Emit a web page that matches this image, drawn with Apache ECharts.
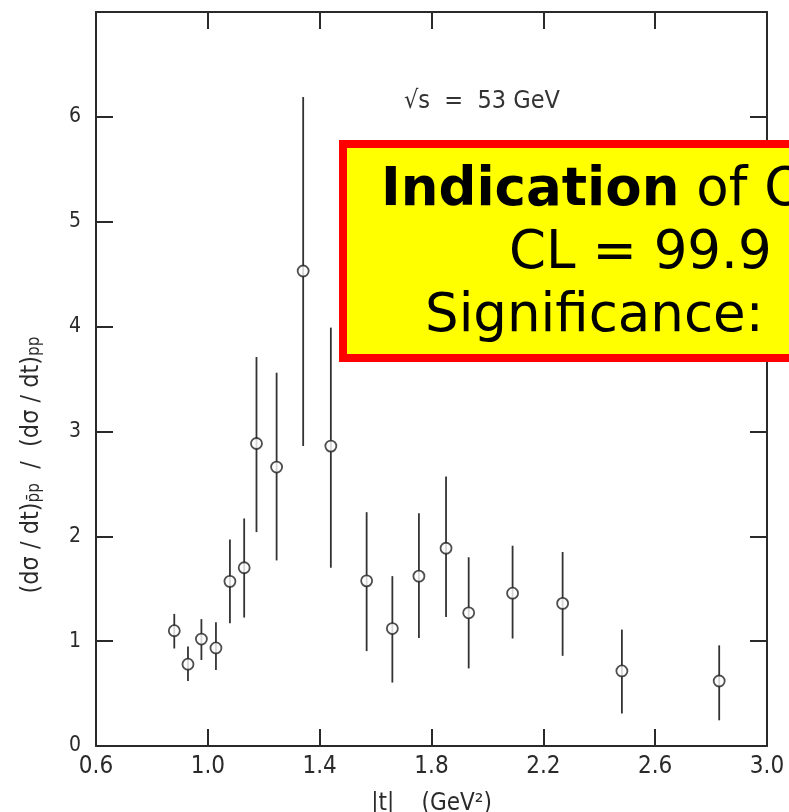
<!DOCTYPE html>
<html>
<head>
<meta charset="utf-8">
<script src="https://cdn.jsdelivr.net/npm/echarts@6/dist/echarts.min.js"></script>
<style>
html,body{margin:0;padding:0;background:#fff;}
#chart{width:789px;height:812px;}
</style>
</head>
<body>
<div id="chart"></div>
<script>
// |t| values (GeV^2)
var tValues = [0.88, 0.929, 0.977, 1.029, 1.079, 1.13, 1.174, 1.246, 1.341, 1.44, 1.568, 1.66, 1.755, 1.852, 1.933, 2.09, 2.269, 2.481, 2.829];
// ratio (dσ/dt)p̄p / (dσ/dt)pp
var ratioValues = [1.10, 0.78, 1.02, 0.935, 1.57, 1.70, 2.885, 2.66, 4.53, 2.86, 1.575, 1.12, 1.62, 1.886, 1.27, 1.457, 1.36, 0.716, 0.62];
// error bar upper and lower ends
var errHigh = [1.26, 0.95, 1.21, 1.18, 1.97, 2.17, 3.71, 3.56, 6.19, 3.99, 2.23, 1.62, 2.22, 2.57, 1.80, 1.91, 1.85, 1.11, 0.96];
var errLow = [0.93, 0.62, 0.82, 0.725, 1.17, 1.225, 2.04, 1.77, 2.86, 1.70, 0.905, 0.605, 1.03, 1.23, 0.74, 1.025, 0.86, 0.31, 0.245];
// axis ticks
var xTickLabels = ['0.6', '1.0', '1.4', '1.8', '2.2', '2.6', '3.0'];
var yTickLabels = ['0', '1', '2', '3', '4', '5', '6'];
// texts
var energyLabel = '\u221As  =  53 GeV';
var boxLine1Bold = 'Indication';
var boxLine1Rest = ' of O';
var boxLine2 = 'CL = 99.9';
var boxLine3 = 'Significance:';

var chart = echarts.init(document.getElementById('chart'), null, {renderer: 'canvas'});

var pts = tValues.map(function (t, i) { return [t, ratioValues[i]]; });
var bars = tValues.map(function (t, i) { return [t, errLow[i], errHigh[i]]; });

var axisCol = '#2a2a2a';
var labelFont = "'DejaVu Sans Condensed', 'Liberation Sans Narrow', 'Liberation Sans', sans-serif";

function xAxisBase(pos, showLabel) {
  return {
    type: 'value', position: pos, min: 0.6, max: 3.0, interval: 0.4,
    axisLine: {show: true, onZero: false, lineStyle: {color: axisCol, width: 2}},
    axisTick: {show: true, inside: true, length: 17, lineStyle: {color: axisCol, width: 2}},
    splitLine: {show: false},
    axisLabel: {
      show: showLabel, margin: 9, color: '#2a2a2a', fontSize: 24, fontFamily: labelFont,
      formatter: function (v) {
        var idx = Math.round((v - 0.6) / 0.4);
        return xTickLabels[idx] || '';
      }
    }
  };
}
function yAxisBase(pos, showLabel) {
  return {
    type: 'value', position: pos, min: 0, max: 7, interval: 1,
    axisLine: {show: true, onZero: false, lineStyle: {color: axisCol, width: 2}},
    axisTick: {show: true, inside: true, length: 17, lineStyle: {color: axisCol, width: 2}},
    splitLine: {show: false},
    axisLabel: {
      show: showLabel, margin: 15, color: '#2a2a2a', fontSize: 21, fontFamily: labelFont,
      formatter: function (v) {
        var idx = Math.round(v);
        return yTickLabels[idx] !== undefined ? yTickLabels[idx] : '';
      }
    }
  };
}

var xBottom = xAxisBase('bottom', true);
xBottom.name = '|t|    (GeV\u00B2)';
xBottom.nameLocation = 'middle';
xBottom.nameGap = 46;
xBottom.nameTextStyle = {color: '#2a2a2a', fontSize: 24, fontFamily: labelFont};

var option = {
  backgroundColor: '#fff',
  animation: false,
  grid: {left: 96, right: 22, top: 12, bottom: 66, containLabel: false, outerBoundsMode: 'none'},
  xAxis: [xBottom, xAxisBase('top', false)],
  yAxis: [yAxisBase('left', true), yAxisBase('right', false)],
  series: [
    {
      type: 'custom',
      xAxisIndex: 0, yAxisIndex: 0,
      data: bars,
      renderItem: function (params, api) {
        var top = api.coord([api.value(0), api.value(2)]);
        var bot = api.coord([api.value(0), api.value(1)]);
        return {
          type: 'line',
          shape: {x1: top[0], y1: top[1], x2: bot[0], y2: bot[1]},
          style: {stroke: '#333', lineWidth: 1.8}
        };
      },
      z: 2
    },
    {
      type: 'scatter',
      xAxisIndex: 0, yAxisIndex: 0,
      data: pts,
      symbol: 'circle',
      symbolSize: 11,
      itemStyle: {color: '#fff', borderColor: '#222', borderWidth: 1.8},
      z: 3
    }
  ],
  graphic: [
    {
      type: 'text', x: 404, y: 101, z: 10,
      style: {text: energyLabel, fill: '#333', font: "25px 'DejaVu Sans Condensed', 'Liberation Sans Narrow', sans-serif", align: 'left', verticalAlign: 'middle'}
    },
    {
      type: 'text', x: 31, y: 465, rotation: Math.PI / 2, z: 10,
      style: {
        text: '{m|(d\u03C3 / dt)}{s|p\u0304p}{m|  /  (d\u03C3 / dt)}{s|pp}',
        align: 'center', verticalAlign: 'middle', fill: '#333',
        rich: {
          m: {fontSize: 25, fontFamily: labelFont, lineHeight: 25, verticalAlign: 'top', fill: '#2a2a2a'},
          s: {fontSize: 17, fontFamily: labelFont, lineHeight: 17, verticalAlign: 'bottom', fill: '#2a2a2a'}
        }
      }
    },
    {
      type: 'rect', z: 20,
      shape: {x: 343, y: 144, width: 520, height: 214},
      style: {fill: '#ffff00', stroke: '#ff0000', lineWidth: 8}
    },
    {
      type: 'text', x: 381, y: 191, z: 21,
      style: {
        text: '{b|' + boxLine1Bold + '}{n|' + boxLine1Rest + '}',
        align: 'left', verticalAlign: 'middle',
        rich: {
          b: {fontSize: 53, fontWeight: 'bold', fontFamily: "'DejaVu Sans', Verdana, sans-serif", fill: '#000'},
          n: {fontSize: 53, fontFamily: "'DejaVu Sans', Verdana, sans-serif", fill: '#000'}
        }
      }
    },
    {
      type: 'text', x: 509, y: 254, z: 21,
      style: {text: boxLine2, align: 'left', verticalAlign: 'middle', fill: '#000', font: "53px 'DejaVu Sans', Verdana, sans-serif"}
    },
    {
      type: 'text', x: 425, y: 317, z: 21,
      style: {text: boxLine3, align: 'left', verticalAlign: 'middle', fill: '#000', font: "53px 'DejaVu Sans', Verdana, sans-serif"}
    }
  ]
};
chart.setOption(option);
</script>
</body>
</html>
